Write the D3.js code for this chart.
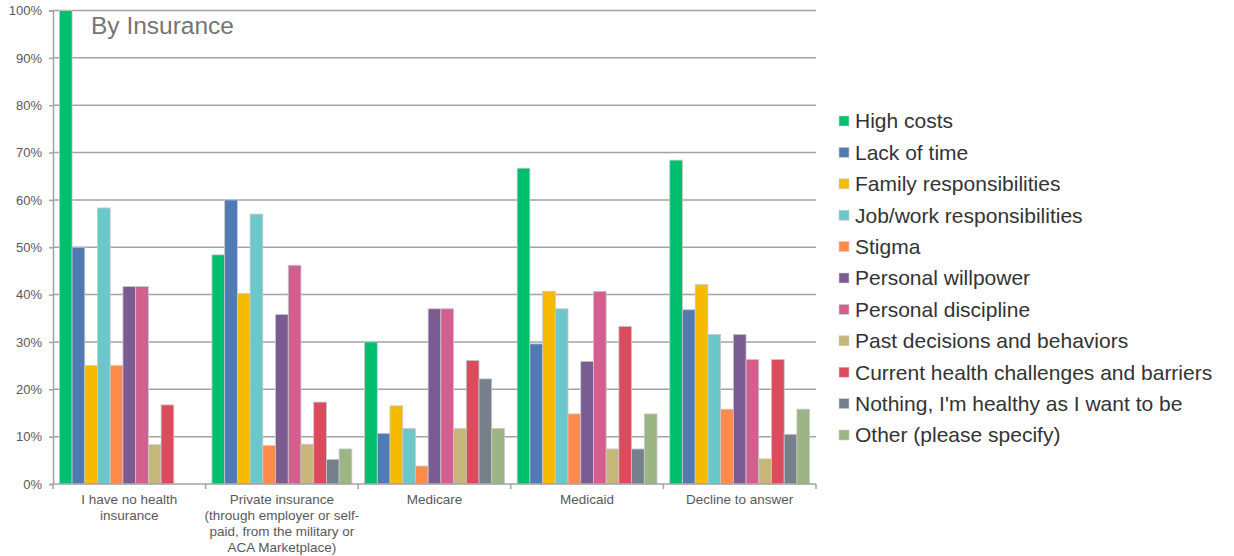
<!DOCTYPE html>
<html>
<head>
<meta charset="utf-8">
<script src="https://cdn.jsdelivr.net/npm/d3@7"></script>
<style>
  html, body { margin: 0; padding: 0; background: #fff; }
  svg { display: block; font-family: "Liberation Sans", Arial, sans-serif; }
</style>
</head>
<body>
<svg id="chart" width="1234" height="556"></svg>
<script>
// Insurance groups (x-axis), each label split into display lines
const categories = [
  ["I have no health", "insurance"],
  ["Private insurance", "(through employer or self-", "paid, from the military or", "ACA Marketplace)"],
  ["Medicare"],
  ["Medicaid"],
  ["Decline to answer"]
];

// Barrier series (legend order)
const seriesNames = [
  "High costs",
  "Lack of time",
  "Family responsibilities",
  "Job/work responsibilities",
  "Stigma",
  "Personal willpower",
  "Personal discipline",
  "Past decisions and behaviors",
  "Current health challenges and barriers",
  "Nothing, I'm healthy as I want to be",
  "Other (please specify)"
];

const seriesColors = [
  "#00bf6f", "#4f7ab4", "#f6bb00", "#6cc7cb", "#fe8a4c", "#7b5c92",
  "#d35f8f", "#c7b67a", "#da4c5d", "#76808a", "#9db585"
];

// Share of respondents per series, one array per insurance group (%)
const noInsurance = [100, 50, 25, 58.3, 25, 41.7, 41.7, 8.3, 16.7, 0, 0];
const privateIns  = [48.4, 60, 40.2, 57.0, 8.1, 35.8, 46.2, 8.4, 17.3, 5.2, 7.4];
const medicare    = [30.0, 10.7, 16.5, 11.7, 3.8, 37.0, 37.0, 11.7, 26.1, 22.2, 11.7];
const medicaid    = [66.7, 29.6, 40.7, 37.0, 14.8, 25.9, 40.7, 7.4, 33.3, 7.4, 14.8];
const declined    = [68.4, 36.8, 42.1, 31.6, 15.8, 31.6, 26.3, 5.3, 26.3, 10.5, 15.8];
const groupValues = [noInsurance, privateIns, medicare, medicaid, declined];

const yTicks = [0, 10, 20, 30, 40, 50, 60, 70, 80, 90, 100];
const title = "By Insurance";

const svg = d3.select("#chart");
const margin = { left: 53, right: 418, top: 10.5, bottom: 72 };
const W = 1234, H = 556;
const plotW = W - margin.left - margin.right;
const plotH = H - margin.top - margin.bottom;

const g = svg.append("g").attr("transform", `translate(${margin.left},${margin.top})`);

const x0 = d3.scaleBand().domain(d3.range(categories.length)).range([0, plotW]).paddingInner(0).paddingOuter(0);
const x1 = d3.scaleBand().domain(d3.range(seriesNames.length)).range([0, x0.bandwidth()])
  .paddingInner(0).paddingOuter(0.5);
const y = d3.scaleLinear().domain([0, 100]).range([plotH, 0]);

// Horizontal gridlines
g.append("g").selectAll("line").data(yTicks.filter(t => t > 0)).join("line")
  .attr("x1", 0).attr("x2", plotW)
  .attr("y1", d => y(d)).attr("y2", d => y(d))
  .attr("stroke", "#a3a3a3").attr("stroke-width", 1.5);

// Bars
const groups = g.append("g").selectAll("g").data(groupValues).join("g")
  .attr("transform", (d, i) => `translate(${x0(i)},0)`);
groups.selectAll("rect").data(d => d.map((v, j) => ({ v, j }))).join("rect")
  .attr("x", d => x1(d.j))
  .attr("width", x1.bandwidth())
  .attr("y", d => y(d.v))
  .attr("height", d => plotH - y(d.v))
  .attr("fill", d => seriesColors[d.j])
  .attr("stroke", d => d.v > 0 ? "#c9c9c9" : "none")
  .attr("stroke-width", 0.8);

// Y axis
const yAxis = g.append("g")
  .call(d3.axisLeft(y).tickValues(yTicks).tickFormat(d => d + "%").tickSize(4).tickPadding(7));
yAxis.select(".domain").attr("stroke", "#a3a3a3").attr("stroke-width", 1.5);
yAxis.selectAll(".tick line").attr("stroke", "#a3a3a3").attr("stroke-width", 1.5);
yAxis.selectAll(".tick text").attr("fill", "#595959").style("font-size", "13px")
  .style("font-family", "'Liberation Sans', Arial, sans-serif");

// X axis baseline with category dividers
const xAxis = g.append("g").attr("transform", `translate(0,${plotH})`);
xAxis.append("line").attr("x1", 0).attr("x2", plotW).attr("stroke", "#a3a3a3").attr("stroke-width", 1.5);
xAxis.selectAll("line.div").data(d3.range(categories.length + 1)).join("line")
  .attr("class", "div")
  .attr("x1", i => i * x0.bandwidth()).attr("x2", i => i * x0.bandwidth())
  .attr("y1", 0).attr("y2", 5)
  .attr("stroke", "#a3a3a3").attr("stroke-width", 1.5);

// Category labels
xAxis.selectAll("text").data(categories).join("text")
  .attr("x", (d, i) => x0(i) + x0.bandwidth() / 2)
  .attr("y", 20)
  .attr("text-anchor", "middle")
  .attr("fill", "#595959")
  .style("font-size", "13.5px")
  .selectAll("tspan").data(d => d).join("tspan")
  .attr("x", function () { return d3.select(this.parentNode).attr("x"); })
  .attr("dy", (d, k) => k === 0 ? 0 : 16)
  .text(d => d);

// Title inside plot
g.append("text").attr("x", 38).attr("y", 23)
  .attr("fill", "#757575").style("font-size", "24.5px").text(title);

// Legend
const legend = svg.append("g").attr("transform", "translate(839,121)");
const rows = legend.selectAll("g").data(seriesNames).join("g")
  .attr("transform", (d, i) => `translate(0,${i * 31.4})`);
rows.append("rect").attr("x", 0).attr("y", -5).attr("width", 10).attr("height", 10)
  .attr("fill", (d, i) => seriesColors[i]).attr("stroke", "#d0d0d0").attr("stroke-width", 0.6);
rows.append("text").attr("x", 16).attr("y", 0).attr("dy", "0.35em")
  .attr("fill", "#333").style("font-size", "21px").text(d => d);
</script>
</body>
</html>
